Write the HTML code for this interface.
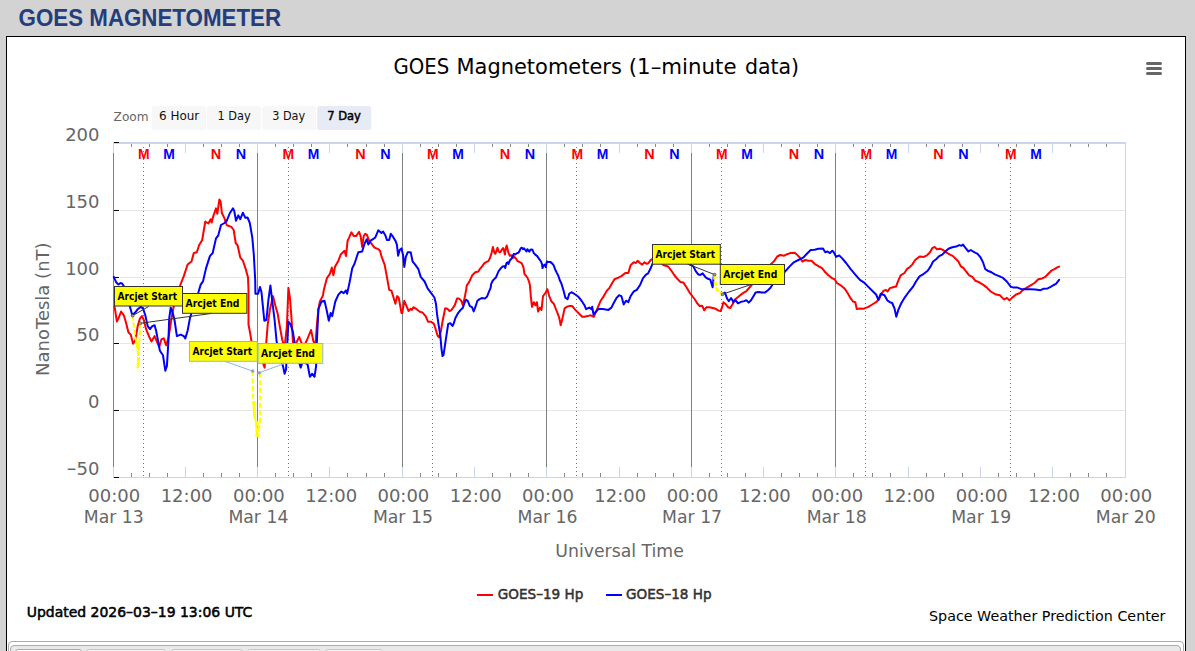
<!DOCTYPE html>
<html><head><meta charset="utf-8"><title>GOES Magnetometer</title><style>
*{margin:0;padding:0;box-sizing:border-box}
html,body{width:1195px;height:651px;overflow:hidden;background:#d3d3d3}
body{position:relative}
#box{position:absolute;left:6px;top:36px;width:1180px;height:640px;background:#fff;border:1px solid #000}
#chart{position:absolute;left:0;top:0}
#chart text{font-family:"DejaVu Sans",sans-serif}
#chart text.hd{font-family:"Liberation Sans",Arial,sans-serif;font-weight:bold;font-size:23.5px;fill:#233e7b}
.ttl{font-size:21px;fill:#000}
.zl{font-size:13px;fill:#666}
.zb{font-size:12.4px;fill:#111}
.zb.sel{fill:#000;stroke:#000;stroke-width:0.5px}
.ax{font-size:18px;fill:#666}
#chart text.mn{font-family:"Liberation Sans",Arial,sans-serif;font-weight:bold;font-size:15.5px}
.s{fill:none;stroke-width:2;stroke-linejoin:round;stroke-linecap:round}
.y{fill:none;stroke:#ffff00;stroke-width:2}
.an{font-size:11px;font-weight:bold;fill:#000}
.lg{font-size:14.8px;fill:#333;stroke:#333;stroke-width:0.55px}
.up{font-size:14.6px;fill:#000;stroke:#000;stroke-width:0.55px}
.cr{font-size:14.5px;fill:#000}
#tabs{position:absolute;left:8px;top:641px;width:1176px;height:30px;border:1px solid #aaa;border-radius:4px;background:#fff}
#tabh{position:absolute;left:10px;top:645px;width:1171px;height:30px;border:1px solid #aaa;border-radius:4px;background:#e9e9e9}
.tab{position:absolute;top:649px;height:20px;border:1px solid #c5c5c5;border-radius:3px 3px 0 0;background:#f6f6f6}
.tab.act{background:#fff;border-color:#aaa}
</style></head>
<body>
<div id="box"></div>
<div id="tabs"></div><div id="tabh"></div><div class="tab act" style="left:15px;width:67px"></div><div class="tab" style="left:86px;width:80px"></div><div class="tab" style="left:171px;width:72px"></div><div class="tab" style="left:247px;width:74px"></div><div class="tab" style="left:325px;width:58px"></div>
<svg id="chart" width="1195" height="651" viewBox="0 0 1195 651">
<text x="18.6" y="25.8" textLength="262.5" lengthAdjust="spacingAndGlyphs" class="hd">GOES MAGNETOMETER</text>
<g class="ttl">
<text x="393.5" y="73.8" textLength="55.8" lengthAdjust="spacingAndGlyphs" class="ttl">GOES</text>
<text x="456.5" y="73.8" textLength="165.3" lengthAdjust="spacingAndGlyphs" class="ttl">Magnetometers</text>
<text x="628.8" y="73.8" textLength="107.7" lengthAdjust="spacingAndGlyphs" class="ttl">(1&#8211;minute</text>
<text x="744.9" y="73.8" textLength="54.2" lengthAdjust="spacingAndGlyphs" class="ttl">data)</text>
</g>
<line x1="1147.5" y1="63.5" x2="1160.5" y2="63.5" stroke="#666" stroke-width="3" stroke-linecap="round"/>
<line x1="1147.5" y1="68.5" x2="1160.5" y2="68.5" stroke="#666" stroke-width="3" stroke-linecap="round"/>
<line x1="1147.5" y1="73.5" x2="1160.5" y2="73.5" stroke="#666" stroke-width="3" stroke-linecap="round"/>
<text x="113.6" y="121.1" textLength="35" lengthAdjust="spacingAndGlyphs" class="zl">Zoom</text>
<rect x="152" y="106" width="54" height="24" rx="2.5" fill="#f7f7f7"/>
<text x="159.0" y="120.2" textLength="40.3" lengthAdjust="spacingAndGlyphs" class="zb">6 Hour</text>
<rect x="207" y="106" width="54" height="24" rx="2.5" fill="#f7f7f7"/>
<text x="217.5" y="120.2" textLength="33.2" lengthAdjust="spacingAndGlyphs" class="zb">1 Day</text>
<rect x="262.2" y="106" width="54" height="24" rx="2.5" fill="#f7f7f7"/>
<text x="272.2" y="120.2" textLength="33" lengthAdjust="spacingAndGlyphs" class="zb">3 Day</text>
<rect x="317.2" y="106" width="54" height="24" rx="2.5" fill="#e6ebf5"/>
<text x="327.2" y="120.2" textLength="33.7" lengthAdjust="spacingAndGlyphs" class="zb sel">7 Day</text>
<rect x="120" y="210" width="1005" height="1" fill="#e6e6e6"/>
<rect x="120" y="277" width="1005" height="1" fill="#e6e6e6"/>
<rect x="120" y="343" width="1005" height="1" fill="#e6e6e6"/>
<rect x="120" y="410" width="1005" height="1" fill="#e6e6e6"/>
<rect x="113" y="142" width="1" height="335" fill="#808080"/>
<rect x="257" y="142" width="1" height="335" fill="#808080"/>
<rect x="402" y="142" width="1" height="335" fill="#808080"/>
<rect x="546" y="142" width="1" height="335" fill="#808080"/>
<rect x="691" y="142" width="1" height="335" fill="#808080"/>
<rect x="835" y="142" width="1" height="335" fill="#808080"/>
<rect x="113" y="142" width="1013" height="2" fill="#ccd6eb"/>
<rect x="113" y="477" width="1013" height="1" fill="#ccd6eb"/>
<rect x="1125" y="142" width="1" height="336" fill="#ccd6eb"/>
<rect x="113" y="144" width="1" height="9" fill="#ccd6eb"/>
<rect x="113" y="467" width="1" height="10" fill="#ccd6eb"/>
<rect x="131" y="144" width="1" height="3" fill="#888"/>
<rect x="131" y="473" width="1" height="4" fill="#888"/>
<rect x="149" y="144" width="1" height="3" fill="#888"/>
<rect x="149" y="473" width="1" height="4" fill="#888"/>
<rect x="167" y="144" width="1" height="3" fill="#888"/>
<rect x="167" y="473" width="1" height="4" fill="#888"/>
<rect x="185" y="144" width="1" height="9" fill="#ccd6eb"/>
<rect x="185" y="467" width="1" height="10" fill="#ccd6eb"/>
<rect x="203" y="144" width="1" height="3" fill="#888"/>
<rect x="203" y="473" width="1" height="4" fill="#888"/>
<rect x="221" y="144" width="1" height="3" fill="#888"/>
<rect x="221" y="473" width="1" height="4" fill="#888"/>
<rect x="239" y="144" width="1" height="3" fill="#888"/>
<rect x="239" y="473" width="1" height="4" fill="#888"/>
<rect x="257" y="144" width="1" height="9" fill="#ccd6eb"/>
<rect x="257" y="467" width="1" height="10" fill="#ccd6eb"/>
<rect x="275" y="144" width="1" height="3" fill="#888"/>
<rect x="275" y="473" width="1" height="4" fill="#888"/>
<rect x="293" y="144" width="1" height="3" fill="#888"/>
<rect x="293" y="473" width="1" height="4" fill="#888"/>
<rect x="311" y="144" width="1" height="3" fill="#888"/>
<rect x="311" y="473" width="1" height="4" fill="#888"/>
<rect x="329" y="144" width="1" height="9" fill="#ccd6eb"/>
<rect x="329" y="467" width="1" height="10" fill="#ccd6eb"/>
<rect x="347" y="144" width="1" height="3" fill="#888"/>
<rect x="347" y="473" width="1" height="4" fill="#888"/>
<rect x="366" y="144" width="1" height="3" fill="#888"/>
<rect x="366" y="473" width="1" height="4" fill="#888"/>
<rect x="384" y="144" width="1" height="3" fill="#888"/>
<rect x="384" y="473" width="1" height="4" fill="#888"/>
<rect x="402" y="144" width="1" height="9" fill="#ccd6eb"/>
<rect x="402" y="467" width="1" height="10" fill="#ccd6eb"/>
<rect x="420" y="144" width="1" height="3" fill="#888"/>
<rect x="420" y="473" width="1" height="4" fill="#888"/>
<rect x="438" y="144" width="1" height="3" fill="#888"/>
<rect x="438" y="473" width="1" height="4" fill="#888"/>
<rect x="456" y="144" width="1" height="3" fill="#888"/>
<rect x="456" y="473" width="1" height="4" fill="#888"/>
<rect x="474" y="144" width="1" height="9" fill="#ccd6eb"/>
<rect x="474" y="467" width="1" height="10" fill="#ccd6eb"/>
<rect x="492" y="144" width="1" height="3" fill="#888"/>
<rect x="492" y="473" width="1" height="4" fill="#888"/>
<rect x="510" y="144" width="1" height="3" fill="#888"/>
<rect x="510" y="473" width="1" height="4" fill="#888"/>
<rect x="528" y="144" width="1" height="3" fill="#888"/>
<rect x="528" y="473" width="1" height="4" fill="#888"/>
<rect x="546" y="144" width="1" height="9" fill="#ccd6eb"/>
<rect x="546" y="467" width="1" height="10" fill="#ccd6eb"/>
<rect x="564" y="144" width="1" height="3" fill="#888"/>
<rect x="564" y="473" width="1" height="4" fill="#888"/>
<rect x="582" y="144" width="1" height="3" fill="#888"/>
<rect x="582" y="473" width="1" height="4" fill="#888"/>
<rect x="600" y="144" width="1" height="3" fill="#888"/>
<rect x="600" y="473" width="1" height="4" fill="#888"/>
<rect x="619" y="144" width="1" height="9" fill="#ccd6eb"/>
<rect x="619" y="467" width="1" height="10" fill="#ccd6eb"/>
<rect x="637" y="144" width="1" height="3" fill="#888"/>
<rect x="637" y="473" width="1" height="4" fill="#888"/>
<rect x="655" y="144" width="1" height="3" fill="#888"/>
<rect x="655" y="473" width="1" height="4" fill="#888"/>
<rect x="673" y="144" width="1" height="3" fill="#888"/>
<rect x="673" y="473" width="1" height="4" fill="#888"/>
<rect x="691" y="144" width="1" height="9" fill="#ccd6eb"/>
<rect x="691" y="467" width="1" height="10" fill="#ccd6eb"/>
<rect x="709" y="144" width="1" height="3" fill="#888"/>
<rect x="709" y="473" width="1" height="4" fill="#888"/>
<rect x="727" y="144" width="1" height="3" fill="#888"/>
<rect x="727" y="473" width="1" height="4" fill="#888"/>
<rect x="745" y="144" width="1" height="3" fill="#888"/>
<rect x="745" y="473" width="1" height="4" fill="#888"/>
<rect x="763" y="144" width="1" height="9" fill="#ccd6eb"/>
<rect x="763" y="467" width="1" height="10" fill="#ccd6eb"/>
<rect x="781" y="144" width="1" height="3" fill="#888"/>
<rect x="781" y="473" width="1" height="4" fill="#888"/>
<rect x="799" y="144" width="1" height="3" fill="#888"/>
<rect x="799" y="473" width="1" height="4" fill="#888"/>
<rect x="817" y="144" width="1" height="3" fill="#888"/>
<rect x="817" y="473" width="1" height="4" fill="#888"/>
<rect x="835" y="144" width="1" height="9" fill="#ccd6eb"/>
<rect x="835" y="467" width="1" height="10" fill="#ccd6eb"/>
<rect x="853" y="144" width="1" height="3" fill="#888"/>
<rect x="853" y="473" width="1" height="4" fill="#888"/>
<rect x="872" y="144" width="1" height="3" fill="#888"/>
<rect x="872" y="473" width="1" height="4" fill="#888"/>
<rect x="890" y="144" width="1" height="3" fill="#888"/>
<rect x="890" y="473" width="1" height="4" fill="#888"/>
<rect x="908" y="144" width="1" height="9" fill="#ccd6eb"/>
<rect x="908" y="467" width="1" height="10" fill="#ccd6eb"/>
<rect x="926" y="144" width="1" height="3" fill="#888"/>
<rect x="926" y="473" width="1" height="4" fill="#888"/>
<rect x="944" y="144" width="1" height="3" fill="#888"/>
<rect x="944" y="473" width="1" height="4" fill="#888"/>
<rect x="962" y="144" width="1" height="3" fill="#888"/>
<rect x="962" y="473" width="1" height="4" fill="#888"/>
<rect x="980" y="144" width="1" height="9" fill="#ccd6eb"/>
<rect x="980" y="467" width="1" height="10" fill="#ccd6eb"/>
<rect x="998" y="144" width="1" height="3" fill="#888"/>
<rect x="998" y="473" width="1" height="4" fill="#888"/>
<rect x="1016" y="144" width="1" height="3" fill="#888"/>
<rect x="1016" y="473" width="1" height="4" fill="#888"/>
<rect x="1034" y="144" width="1" height="3" fill="#888"/>
<rect x="1034" y="473" width="1" height="4" fill="#888"/>
<rect x="1052" y="144" width="1" height="9" fill="#ccd6eb"/>
<rect x="1052" y="467" width="1" height="10" fill="#ccd6eb"/>
<rect x="1070" y="144" width="1" height="3" fill="#888"/>
<rect x="1070" y="473" width="1" height="4" fill="#888"/>
<rect x="1088" y="144" width="1" height="3" fill="#888"/>
<rect x="1088" y="473" width="1" height="4" fill="#888"/>
<rect x="1106" y="144" width="1" height="3" fill="#888"/>
<rect x="1106" y="473" width="1" height="4" fill="#888"/>
<rect x="1125" y="144" width="1" height="9" fill="#ccd6eb"/>
<rect x="1125" y="467" width="1" height="10" fill="#ccd6eb"/>
<rect x="114" y="142" width="5" height="1" fill="#000"/>
<rect x="114" y="210" width="5" height="1" fill="#000"/>
<rect x="114" y="277" width="5" height="1" fill="#000"/>
<rect x="114" y="343" width="5" height="1" fill="#000"/>
<rect x="114" y="410" width="5" height="1" fill="#000"/>
<rect x="114" y="477" width="5" height="1" fill="#000"/>
<text x="99.5" y="141" text-anchor="end" class="ax">200</text>
<text x="99.5" y="208" text-anchor="end" class="ax">150</text>
<text x="99.5" y="275" text-anchor="end" class="ax">100</text>
<text x="99.5" y="341" text-anchor="end" class="ax">50</text>
<text x="99.5" y="408" text-anchor="end" class="ax">0</text>
<text x="99.5" y="475" text-anchor="end" class="ax"><tspan textLength="10.2" lengthAdjust="spacingAndGlyphs">&#8722;</tspan>50</text>
<text transform="translate(49,309.2) rotate(-90)" text-anchor="middle" class="ax">NanoTesla (nT)</text>
<text x="114.3" y="502" text-anchor="middle" class="ax">00:00</text>
<text x="113.8" y="523" text-anchor="middle" textLength="60" lengthAdjust="spacingAndGlyphs" class="ax">Mar 13</text>
<text x="186.6" y="502" text-anchor="middle" class="ax">12:00</text>
<text x="258.9" y="502" text-anchor="middle" class="ax">00:00</text>
<text x="258.4" y="523" text-anchor="middle" textLength="60" lengthAdjust="spacingAndGlyphs" class="ax">Mar 14</text>
<text x="331.2" y="502" text-anchor="middle" class="ax">12:00</text>
<text x="403.4" y="502" text-anchor="middle" class="ax">00:00</text>
<text x="402.9" y="523" text-anchor="middle" textLength="60" lengthAdjust="spacingAndGlyphs" class="ax">Mar 15</text>
<text x="475.7" y="502" text-anchor="middle" class="ax">12:00</text>
<text x="548.0" y="502" text-anchor="middle" class="ax">00:00</text>
<text x="547.5" y="523" text-anchor="middle" textLength="60" lengthAdjust="spacingAndGlyphs" class="ax">Mar 16</text>
<text x="620.3" y="502" text-anchor="middle" class="ax">12:00</text>
<text x="692.6" y="502" text-anchor="middle" class="ax">00:00</text>
<text x="692.1" y="523" text-anchor="middle" textLength="60" lengthAdjust="spacingAndGlyphs" class="ax">Mar 17</text>
<text x="764.9" y="502" text-anchor="middle" class="ax">12:00</text>
<text x="837.2" y="502" text-anchor="middle" class="ax">00:00</text>
<text x="836.7" y="523" text-anchor="middle" textLength="60" lengthAdjust="spacingAndGlyphs" class="ax">Mar 18</text>
<text x="909.4" y="502" text-anchor="middle" class="ax">12:00</text>
<text x="981.7" y="502" text-anchor="middle" class="ax">00:00</text>
<text x="981.2" y="523" text-anchor="middle" textLength="60" lengthAdjust="spacingAndGlyphs" class="ax">Mar 19</text>
<text x="1054.0" y="502" text-anchor="middle" class="ax">12:00</text>
<text x="1126.3" y="502" text-anchor="middle" class="ax">00:00</text>
<text x="1125.8" y="523" text-anchor="middle" textLength="60" lengthAdjust="spacingAndGlyphs" class="ax">Mar 20</text>
<text x="555.3" y="556.8" textLength="128.5" lengthAdjust="spacingAndGlyphs" class="ax">Universal Time</text>
<text x="143.9" y="158.6" text-anchor="middle" textLength="11.6" lengthAdjust="spacingAndGlyphs" class="mn" fill="#ff0000">M</text>
<text x="169.0" y="158.6" text-anchor="middle" textLength="11.6" lengthAdjust="spacingAndGlyphs" class="mn" fill="#0000ff">M</text>
<text x="215.9" y="158.6" text-anchor="middle" textLength="10.4" lengthAdjust="spacingAndGlyphs" class="mn" fill="#ff0000">N</text>
<text x="240.9" y="158.6" text-anchor="middle" textLength="10.4" lengthAdjust="spacingAndGlyphs" class="mn" fill="#0000ff">N</text>
<text x="288.4" y="158.6" text-anchor="middle" textLength="11.6" lengthAdjust="spacingAndGlyphs" class="mn" fill="#ff0000">M</text>
<text x="313.5" y="158.6" text-anchor="middle" textLength="11.6" lengthAdjust="spacingAndGlyphs" class="mn" fill="#0000ff">M</text>
<text x="360.4" y="158.6" text-anchor="middle" textLength="10.4" lengthAdjust="spacingAndGlyphs" class="mn" fill="#ff0000">N</text>
<text x="385.4" y="158.6" text-anchor="middle" textLength="10.4" lengthAdjust="spacingAndGlyphs" class="mn" fill="#0000ff">N</text>
<text x="432.9" y="158.6" text-anchor="middle" textLength="11.6" lengthAdjust="spacingAndGlyphs" class="mn" fill="#ff0000">M</text>
<text x="458.0" y="158.6" text-anchor="middle" textLength="11.6" lengthAdjust="spacingAndGlyphs" class="mn" fill="#0000ff">M</text>
<text x="504.9" y="158.6" text-anchor="middle" textLength="10.4" lengthAdjust="spacingAndGlyphs" class="mn" fill="#ff0000">N</text>
<text x="529.9" y="158.6" text-anchor="middle" textLength="10.4" lengthAdjust="spacingAndGlyphs" class="mn" fill="#0000ff">N</text>
<text x="577.4" y="158.6" text-anchor="middle" textLength="11.6" lengthAdjust="spacingAndGlyphs" class="mn" fill="#ff0000">M</text>
<text x="602.5" y="158.6" text-anchor="middle" textLength="11.6" lengthAdjust="spacingAndGlyphs" class="mn" fill="#0000ff">M</text>
<text x="649.4" y="158.6" text-anchor="middle" textLength="10.4" lengthAdjust="spacingAndGlyphs" class="mn" fill="#ff0000">N</text>
<text x="674.4" y="158.6" text-anchor="middle" textLength="10.4" lengthAdjust="spacingAndGlyphs" class="mn" fill="#0000ff">N</text>
<text x="721.9" y="158.6" text-anchor="middle" textLength="11.6" lengthAdjust="spacingAndGlyphs" class="mn" fill="#ff0000">M</text>
<text x="747.0" y="158.6" text-anchor="middle" textLength="11.6" lengthAdjust="spacingAndGlyphs" class="mn" fill="#0000ff">M</text>
<text x="793.9" y="158.6" text-anchor="middle" textLength="10.4" lengthAdjust="spacingAndGlyphs" class="mn" fill="#ff0000">N</text>
<text x="818.9" y="158.6" text-anchor="middle" textLength="10.4" lengthAdjust="spacingAndGlyphs" class="mn" fill="#0000ff">N</text>
<text x="866.4" y="158.6" text-anchor="middle" textLength="11.6" lengthAdjust="spacingAndGlyphs" class="mn" fill="#ff0000">M</text>
<text x="891.5" y="158.6" text-anchor="middle" textLength="11.6" lengthAdjust="spacingAndGlyphs" class="mn" fill="#0000ff">M</text>
<text x="938.4" y="158.6" text-anchor="middle" textLength="10.4" lengthAdjust="spacingAndGlyphs" class="mn" fill="#ff0000">N</text>
<text x="963.4" y="158.6" text-anchor="middle" textLength="10.4" lengthAdjust="spacingAndGlyphs" class="mn" fill="#0000ff">N</text>
<text x="1010.9" y="158.6" text-anchor="middle" textLength="11.6" lengthAdjust="spacingAndGlyphs" class="mn" fill="#ff0000">M</text>
<text x="1036.0" y="158.6" text-anchor="middle" textLength="11.6" lengthAdjust="spacingAndGlyphs" class="mn" fill="#0000ff">M</text>
<line x1="143.5" y1="147" x2="143.5" y2="477" stroke="#777" stroke-width="1" stroke-dasharray="1,3"/>
<line x1="288.5" y1="147" x2="288.5" y2="477" stroke="#777" stroke-width="1" stroke-dasharray="1,3"/>
<line x1="432.5" y1="147" x2="432.5" y2="477" stroke="#777" stroke-width="1" stroke-dasharray="1,3"/>
<line x1="576.5" y1="147" x2="576.5" y2="477" stroke="#777" stroke-width="1" stroke-dasharray="1,3"/>
<line x1="721.5" y1="147" x2="721.5" y2="477" stroke="#777" stroke-width="1" stroke-dasharray="1,3"/>
<line x1="865.5" y1="147" x2="865.5" y2="477" stroke="#777" stroke-width="1" stroke-dasharray="1,3"/>
<line x1="1010.5" y1="147" x2="1010.5" y2="477" stroke="#777" stroke-width="1" stroke-dasharray="1,3"/>
<polyline points="114.6,306.9 116.9,321.5 118.5,318.4 121.1,311.5 123.8,315.3 126.1,323.0 128.4,332.3 130.7,334.6 133.1,343.8 135.4,340.0 137.7,326.1 140.0,318.4 142.0,316.1 143.8,320.0 146.1,329.2 149.2,336.9 151.5,341.5 154.6,336.1 156.9,341.5 159.2,346.9 161.5,339.2 163.8,338.4 166.1,345.3 168.4,338.4 169.9,329.2 172.2,313.8 174.5,303.0 177.6,292.3 180.7,284.0 183.8,276.1 187.6,264.5 191.5,261.5 193.8,253.0 196.8,252.2 199.1,245.3 202.2,240.0 205.3,221.5 208.4,223.5 210.7,219.2 211.7,222.6 213.3,216.1 216.0,208.4 217.3,213.8 219.4,199.5 220.6,201.5 221.9,213.0 224.5,218.4 226.8,225.3 231.4,226.9 233.7,230.0 235.7,243.0 237.6,245.3 240.3,257.6 242.9,260.7 246.0,269.9 248.0,277.6 248.5,290.0 248.5,324.6 250.0,332.3 251.5,341.5 254.0,352.0 257.0,358.0 260.0,361.0 263.0,363.0 264.6,367.6 266.1,344.5 267.7,324.6 270.0,309.2 273.0,296.1 275.3,305.4 277.7,313.8 280.0,327.6 282.3,340.0 284.5,348.0 286.9,326.1 288.4,287.7 290.0,298.4 291.5,318.4 293.0,343.0 295.0,345.0 296.9,341.5 299.2,336.9 301.5,343.0 304.0,346.0 307.0,340.0 311.0,330.0 313.5,341.5 315.5,345.0 316.8,326.1 318.4,309.2 319.9,301.5 323.0,295.4 323.8,290.0 326.8,278.4 329.9,273.8 331.9,267.6 333.4,275.3 335.0,266.8 338.4,260.7 340.7,254.5 343.0,252.2 344.5,250.7 346.0,256.1 347.6,240.7 349.1,237.6 351.4,232.3 353.7,236.1 356.0,236.1 359.1,231.8 360.6,236.1 362.2,246.9 363.7,236.1 365.3,233.8 366.8,234.6 369.1,240.7 372.2,244.6 374.5,247.6 378.3,249.2 380.0,250.7 381.4,256.1 384.6,264.6 386.9,276.9 389.2,289.9 391.5,290.7 395.4,303.8 397.2,296.1 398.7,297.6 401.5,313.0 402.2,313.1 404.3,300.8 406.5,306.1 408.6,311.0 410.8,308.8 411.8,309.9 413.4,307.2 416.1,308.8 419.4,311.5 422.6,312.6 425.8,316.3 428.0,321.7 431.2,321.7 433.9,323.9 436.0,330.3 437.6,335.7 439.2,337.3 440.9,330.9 443.0,319.0 445.2,308.3 447.3,308.8 449.5,311.0 451.1,310.4 452.7,308.3 454.8,305.1 457.0,298.6 459.1,298.6 461.3,300.8 462.9,305.1 464.5,298.6 466.1,290.0 466.8,285.3 469.1,282.2 472.2,275.3 475.3,272.3 478.4,271.5 480.0,268.8 482.3,266.1 484.2,263.4 486.1,262.2 488.4,261.1 490.0,258.0 491.5,253.4 492.9,246.9 494.2,252.3 495.3,253.8 496.5,250.7 497.5,247.7 498.6,251.5 500.0,252.3 501.5,250.3 503.0,248.0 503.9,250.0 504.9,254.6 505.7,248.8 506.7,245.4 507.6,249.2 508.5,253.0 509.9,255.7 511.5,255.3 513.0,258.0 514.5,256.9 516.1,258.8 517.6,261.1 519.9,262.2 521.8,263.4 523.4,267.2 524.5,274.1 526.0,275.7 527.6,278.0 529.1,281.8 529.9,285.0 530.8,296.1 532.0,306.8 533.8,302.2 535.4,305.3 536.9,302.2 538.1,311.5 540.0,307.6 541.5,309.9 543.0,296.1 545.4,293.0 547.4,289.2 549.2,296.1 551.5,301.5 553.8,303.8 556.9,311.5 559.2,317.6 560.7,325.3 562.3,319.1 564.6,308.4 566.9,306.8 569.2,306.1 572.3,306.1 575.3,309.9 579.2,313.8 582.2,316.8 584.5,316.8 587.6,316.1 590.7,315.3 593.8,316.8 596.8,309.9 600.7,300.7 603.8,296.1 606.8,290.7 609.1,288.4 612.2,283.0 614.5,279.2 618.4,277.6 621.4,276.1 625.3,273.0 628.3,273.0 630.6,265.3 633.7,262.3 636.0,263.0 637.6,260.7 639.9,263.0 642.2,264.6 644.5,262.3 646.8,263.8 648.1,263.4 651.1,259.6 655.0,258.0 659.0,261.0 663.4,265.0 668.1,266.5 671.1,270.3 674.2,275.0 677.3,278.8 680.3,281.9 683.4,282.6 686.5,287.3 689.6,292.6 692.6,296.5 694.9,299.5 697.3,303.4 699.6,306.0 702.2,305.7 704.2,310.3 706.5,307.2 709.5,307.2 712.6,308.0 715.7,308.8 718.5,310.6 720.6,311.1 722.1,307.2 723.4,302.3 725.7,304.2 728.0,307.2 730.3,308.0 732.6,304.2 734.9,299.5 738.7,296.5 742.6,293.4 746.4,291.1 750.3,286.5 755.0,281.0 760.0,275.0 765.0,270.0 770.0,265.0 774.1,261.1 777.2,256.5 780.2,255.0 784.1,255.7 787.2,254.2 790.2,253.1 794.6,252.7 796.9,254.6 800.0,257.7 802.3,261.5 805.4,260.0 808.4,260.7 811.5,260.7 814.6,263.8 818.4,266.1 822.3,268.4 825.3,272.3 828.4,275.3 832.3,278.4 834.6,279.2 836.9,283.0 840.7,285.3 844.5,288.4 847.6,293.0 850.7,298.4 853.0,301.5 855.3,302.2 856.8,309.1 859.9,308.4 863.8,308.7 868.4,306.8 872.2,304.5 876.1,302.2 879.1,299.2 881.4,293.8 883.7,290.7 886.0,289.9 887.6,291.5 889.9,288.1 893.0,287.2 896.0,286.6 897.6,282.3 900.6,275.3 904.5,273.0 906.8,269.2 909.1,267.7 912.2,264.6 915.2,260.0 918.3,257.4 920.0,256.4 923.8,256.9 926.9,255.4 930.0,252.3 932.3,248.1 934.6,246.9 936.9,249.2 940.0,248.7 943.1,250.0 946.1,252.3 950.0,254.6 953.0,256.1 956.1,259.2 958.4,261.5 960.7,266.1 963.8,268.4 966.1,271.5 969.2,275.3 972.3,276.9 975.3,280.7 979.2,282.3 983.0,284.6 986.9,287.6 990.7,291.5 995.3,294.2 999.9,295.3 1002.2,297.6 1004.2,299.5 1006.8,297.9 1009.4,300.4 1012.2,297.6 1016.1,294.5 1019.9,293.0 1023.0,289.9 1026.8,287.6 1030.6,285.3 1034.5,283.0 1038.3,279.2 1042.2,278.4 1045.3,276.9 1048.3,273.8 1051.4,270.7 1054.5,269.2 1056.8,267.7 1059.1,266.6" class="s" stroke="#ff0000"/>
<polyline points="113.8,276.8 116.1,282.2 118.5,284.5 120.5,283.0 122.3,283.7 123.8,286.0 126.0,293.0 128.0,300.0 130.0,306.9 132.3,315.3 135.4,312.3 137.7,309.2 140.7,306.9 143.0,308.4 145.3,315.3 147.7,326.1 150.0,329.2 152.3,326.1 154.6,325.3 156.1,330.7 157.6,338.4 159.9,350.7 163.0,355.3 165.3,370.7 166.9,366.1 168.4,341.5 169.2,318.4 170.7,307.7 172.5,312.0 174.5,320.0 176.9,336.1 180.7,334.6 183.8,336.1 185.3,338.4 187.6,330.7 189.9,318.4 193.0,308.0 196.0,298.0 198.4,292.3 200.7,284.6 203.0,281.4 206.0,268.4 209.9,256.1 212.7,253.0 216.0,238.4 218.3,235.3 221.0,225.0 224.5,223.0 226.8,220.7 229.9,213.0 233.0,208.4 234.2,210.7 236.0,220.7 238.3,215.4 240.3,219.2 242.9,212.7 245.2,217.7 247.5,217.4 249.8,223.0 252.3,237.6 253.8,254.5 255.2,280.0 255.4,293.8 258.1,293.8 260.0,286.9 261.5,292.3 264.3,320.7 266.4,320.0 268.4,300.0 270.4,285.4 272.3,301.5 274.6,320.0 276.6,341.5 279.0,352.0 281.0,360.0 283.0,366.1 284.6,373.7 286.1,369.1 287.2,345.0 288.4,321.5 290.7,324.6 293.0,332.3 294.6,343.0 297.0,355.0 300.7,367.6 302.2,363.0 305.0,363.0 307.6,364.5 309.9,376.8 312.2,373.7 314.5,376.8 316.1,366.1 316.8,343.0 318.4,309.2 321.5,301.5 324.5,300.7 326.8,310.7 328.8,320.7 330.7,313.0 332.2,316.1 335.3,301.5 338.4,294.6 341.4,291.5 343.7,293.1 346.0,290.4 347.1,293.8 349.1,284.6 349.9,280.7 352.2,268.4 354.5,263.8 358.3,252.2 362.2,251.5 364.5,243.8 366.8,239.2 368.3,244.6 370.6,240.7 372.9,239.2 375.2,237.6 378.3,230.3 381.4,233.0 383.1,231.5 385.4,235.4 386.9,240.0 389.2,240.0 390.8,233.8 393.1,236.9 395.4,240.7 396.9,244.6 398.1,255.7 399.7,250.0 401.5,248.4 403.1,255.3 404.3,266.9 405.8,256.9 407.7,252.3 410.7,252.3 412.6,261.5 414.6,263.8 418.4,269.2 420.7,276.9 424.6,281.5 427.6,288.4 431.2,293.2 434.4,297.5 436.0,304.0 437.1,314.7 438.7,325.5 440.3,335.2 441.4,348.1 442.5,356.1 443.5,355.1 445.2,343.8 446.8,333.0 448.2,323.9 450.5,323.3 452.5,326.0 453.8,323.3 455.4,318.0 458.1,313.1 460.2,310.4 462.9,307.7 464.5,302.9 466.1,299.7 467.7,300.8 469.9,306.1 472.0,307.2 473.7,311.5 475.3,307.2 477.4,300.8 479.6,299.1 481.7,298.1 484.9,298.6 487.1,296.5 489.2,291.1 490.7,287.6 491.1,284.1 492.7,280.7 494.2,279.1 496.1,277.2 498.4,271.5 500.7,268.4 502.6,266.5 504.2,266.1 505.2,268.0 506.5,263.0 507.6,262.2 508.5,264.0 509.9,260.3 511.5,258.8 512.6,256.5 513.8,253.8 515.1,254.6 516.5,253.4 518.4,252.8 519.5,251.1 520.7,248.4 521.8,247.7 523.0,249.2 524.1,248.4 525.3,250.0 526.4,251.5 527.4,249.2 528.3,250.3 529.3,251.7 530.3,250.0 531.4,249.4 532.6,250.0 533.7,253.0 535.3,254.6 537.2,256.1 539.1,258.8 541.0,261.5 542.0,264.2 542.5,268.0 543.7,265.3 544.9,264.5 545.8,267.2 546.9,261.5 548.3,261.9 550.2,261.9 552.1,263.4 553.7,265.3 555.2,269.5 556.7,272.6 558.3,275.7 559.8,280.3 561.5,283.8 563.8,291.5 565.3,297.6 567.6,299.2 569.2,293.8 571.5,292.2 575.3,294.5 578.4,296.8 581.5,300.7 584.5,305.3 586.1,309.1 589.2,307.6 591.5,309.1 592.2,306.8 593.5,314.5 596.1,311.5 598.4,309.1 603.0,309.1 608.4,309.9 611.4,307.6 613.7,303.0 616.8,297.6 619.1,295.3 621.4,296.1 623.7,304.5 626.0,300.7 628.3,302.2 630.6,296.1 633.7,291.5 636.8,289.9 639.9,285.3 642.9,278.4 646.0,274.6 648.1,273.4 650.4,268.8 652.7,263.4 656.0,258.0 660.0,254.0 665.0,252.0 670.0,252.0 675.0,254.0 680.0,258.0 685.0,262.0 691.1,265.0 693.4,266.5 695.7,271.1 698.0,274.2 700.3,275.0 702.6,273.4 705.7,277.3 708.0,278.8 710.3,279.6 712.6,287.3 713.8,275.0" class="s" stroke="#0000ff"/>
<polyline points="722.6,294.2 724.9,292.6 727.2,298.8 728.8,301.1 731.1,298.0 733.4,301.9 735.7,300.3 738.0,303.4 741.0,301.9 744.1,301.1 746.4,300.3 748.7,302.6 751.0,300.3 753.3,296.5 755.6,292.6 758.7,291.9 761.8,292.6 764.9,292.6 767.9,290.3 770.3,288.0 772.6,284.5 776.0,280.0 780.0,276.0 784.8,271.9 789.2,266.9 793.8,262.3 798.4,260.0 803.1,257.7 806.9,253.8 810.7,250.0 814.6,249.7 818.4,248.7 823.0,248.4 825.3,252.3 827.6,251.5 829.9,253.1 832.3,250.7 833.8,252.3 836.1,256.9 839.2,255.4 842.2,258.4 846.1,263.0 850.7,269.2 855.3,274.6 859.9,279.9 863.8,282.3 867.6,286.1 872.2,290.7 876.1,294.5 878.4,299.9 880.7,293.8 884.5,295.3 887.6,300.7 889.9,302.2 892.2,303.0 894.5,308.4 896.3,316.8 898.3,309.9 901.4,303.0 905.2,296.8 909.1,291.5 912.9,286.9 916.0,281.5 919.1,276.9 920.0,276.1 923.8,273.8 927.7,270.7 930.8,266.1 933.1,261.5 936.1,259.2 939.2,256.1 942.3,254.6 945.4,251.5 948.4,248.7 952.3,247.2 956.1,246.6 959.2,245.1 961.5,245.7 963.0,244.6 965.3,247.7 968.4,251.5 970.7,250.0 974.6,252.3 977.6,253.8 980.7,257.7 983.0,262.3 985.3,269.2 987.6,270.7 991.5,272.3 995.3,274.6 999.1,276.1 1003.0,277.9 1006.8,281.5 1010.7,286.6 1013.7,287.6 1017.6,287.6 1021.4,289.2 1026.0,289.2 1030.6,289.2 1035.3,289.5 1040.6,290.2 1043.7,288.7 1047.6,288.4 1050.6,286.9 1053.7,285.0 1056.0,283.8 1059.1,279.9" class="s" stroke="#0000ff"/>
<polyline points="132.6,315.7 134,328 135.5,338 137,346 138.2,356 137.8,368.4" class="y" stroke-dasharray="5,2"/>
<polyline points="140.3,323.3 139.8,335 139,346 138.5,356" class="y" stroke-dasharray="5,2"/>
<polyline points="137.3,342 138.6,352 138.4,362 137.8,368" class="y" style="stroke-width:3px" stroke-dasharray="4,1"/>
<polyline points="252.7,371.1 252.9,400 254.2,408 255,418 256.5,426 257.2,437" class="y" stroke-dasharray="5,2.5"/>
<polyline points="259.9,372.8 260.2,398 260,423 258.5,432" class="y" stroke-dasharray="5,2.5"/>
<polyline points="254,401 254.6,417" class="y" style="stroke-width:3px"/>
<polyline points="256.8,421 257.4,432 257,437" class="y" style="stroke-width:3.5px" stroke-dasharray="5,1.5"/>
<polyline points="714.6,274.6 714.9,279.6 715.7,287.3 718.8,291.9 722.6,294.2" class="y" style="stroke-width:3px" stroke-dasharray="5,1.5"/>
<line x1="148.7" y1="306.5" x2="132.6" y2="315.7" stroke="#333" stroke-width="1"/>
<circle cx="132.6" cy="315.7" r="1.5" fill="#999" stroke="#333" stroke-width="0.5"/>
<rect x="114.5" y="286.5" width="68" height="19.5" fill="#ffff00" stroke="#333" stroke-width="1"/>
<text x="117.5" y="299.9" textLength="59.5" lengthAdjust="spacingAndGlyphs" class="an">Arcjet Start</text>
<line x1="212.5" y1="313.3" x2="140.3" y2="323.3" stroke="#333" stroke-width="1"/>
<circle cx="140.3" cy="323.3" r="1.5" fill="#999" stroke="#333" stroke-width="0.5"/>
<rect x="182.5" y="293.5" width="64.3" height="19.8" fill="#ffff00" stroke="#333" stroke-width="1"/>
<text x="185.5" y="306.9" textLength="54" lengthAdjust="spacingAndGlyphs" class="an">Arcjet End</text>
<line x1="224.8" y1="361.3" x2="252.7" y2="371.1" stroke="#8cb4e6" stroke-width="1"/>
<circle cx="252.7" cy="371.1" r="1.5" fill="#999" stroke="#8cb4e6" stroke-width="0.5"/>
<rect x="189.5" y="341.5" width="67.8" height="19.8" fill="#ffff00" stroke="#8cb4e6" stroke-width="1"/>
<text x="192.5" y="354.9" textLength="59.5" lengthAdjust="spacingAndGlyphs" class="an">Arcjet Start</text>
<line x1="284.8" y1="363.3" x2="259.4" y2="372.8" stroke="#8cb4e6" stroke-width="1"/>
<circle cx="259.4" cy="372.8" r="1.5" fill="#999" stroke="#8cb4e6" stroke-width="0.5"/>
<rect x="258" y="343.5" width="64.8" height="19.8" fill="#ffff00" stroke="#8cb4e6" stroke-width="1"/>
<text x="261" y="356.9" textLength="54" lengthAdjust="spacingAndGlyphs" class="an">Arcjet End</text>
<line x1="688" y1="264.2" x2="714.6" y2="274.6" stroke="#333" stroke-width="1"/>
<circle cx="714.6" cy="274.6" r="1.5" fill="#999" stroke="#333" stroke-width="0.5"/>
<rect x="652.5" y="244.5" width="67.8" height="19.7" fill="#ffff00" stroke="#333" stroke-width="1"/>
<text x="655.5" y="257.9" textLength="59.5" lengthAdjust="spacingAndGlyphs" class="an">Arcjet Start</text>
<line x1="751" y1="284.5" x2="722.6" y2="294.2" stroke="#333" stroke-width="1"/>
<circle cx="722.6" cy="294.2" r="1.5" fill="#999" stroke="#333" stroke-width="0.5"/>
<rect x="720.3" y="264.5" width="64.2" height="20" fill="#ffff00" stroke="#333" stroke-width="1"/>
<text x="723.3" y="277.9" textLength="54" lengthAdjust="spacingAndGlyphs" class="an">Arcjet End</text>
<line x1="477" y1="595" x2="493" y2="595" stroke="#ff0000" stroke-width="2"/>
<text x="497.8" y="599" textLength="85.5" lengthAdjust="spacingAndGlyphs" class="lg">GOES&#8211;19 Hp</text>
<line x1="606" y1="595" x2="622" y2="595" stroke="#0000ff" stroke-width="2"/>
<text x="626.1" y="599" textLength="85.5" lengthAdjust="spacingAndGlyphs" class="lg">GOES&#8211;18 Hp</text>
<text x="26.8" y="617" textLength="225.5" lengthAdjust="spacingAndGlyphs" class="up">Updated 2026&#8211;03&#8211;19 13:06 UTC</text>
<text x="929" y="621" textLength="236.5" lengthAdjust="spacingAndGlyphs" class="cr">Space Weather Prediction Center</text>
</svg>
</body></html>
